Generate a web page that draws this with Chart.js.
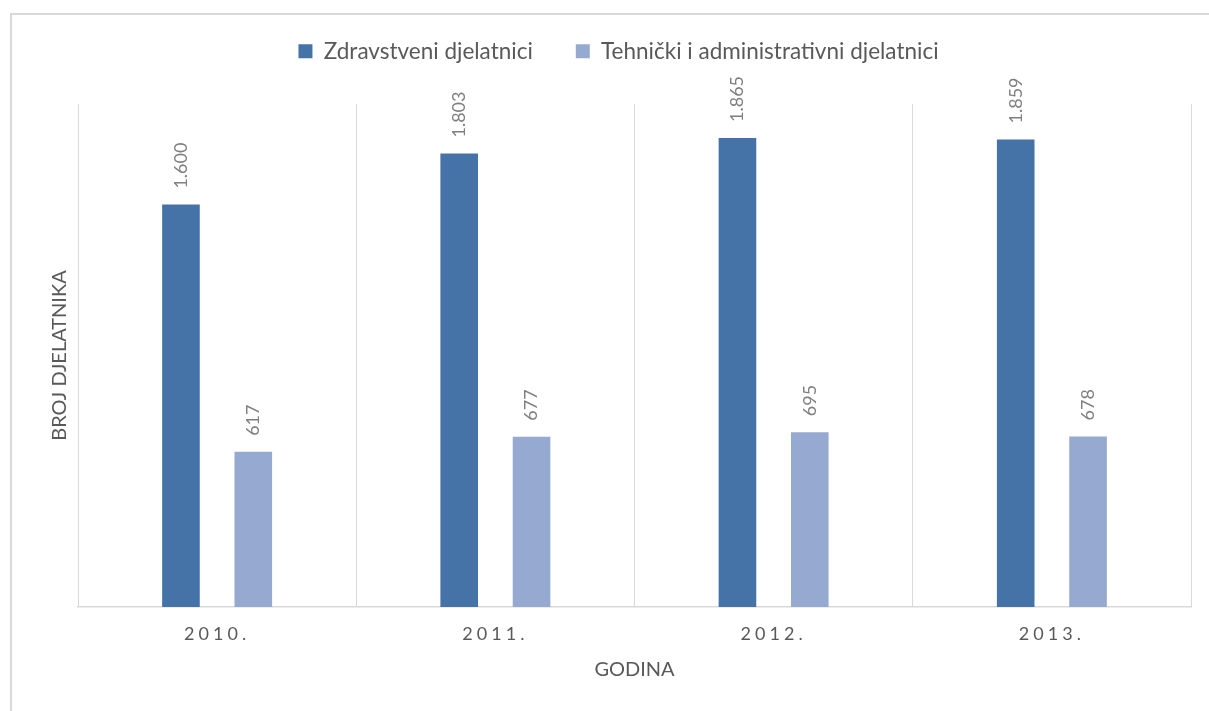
<!DOCTYPE html>
<html lang="hr">
<head>
<meta charset="utf-8">
<title>Broj djelatnika po godinama</title>
<script src="https://cdn.jsdelivr.net/npm/chart.js@4.4.1/dist/chart.umd.min.js"></script>
<style>
  html, body { margin: 0; padding: 0; background: #fff; overflow: hidden; }
  #okvir { position: absolute; left: 10px; top: 13px; width: 1300px; height: 800px; border: 2px solid #d9d9d9; }
  #graf { position: absolute; left: 0; top: 0; }
</style>
</head>
<body>
<div id="okvir"></div>
<canvas id="graf" width="1209" height="711"></canvas>
<script>
// Podaci
const godine = ['2010.', '2011.', '2012.', '2013.'];
const zdravstveni = [1600, 1803, 1865, 1859];
const tehnicki = [617, 677, 695, 678];
const nazivi = ['Zdravstveni djelatnici', 'Tehnički i administrativni djelatnici'];
const yMax = 2000;

const SIVA = '#595959';
const FONT = 'Lato';

// 1600 -> "1.600"
function formatBroj(v) {
    return String(v).replace(/\B(?=(\d{3})+(?!\d))/g, '.');
}

// Vrijednosti iznad stupaca, okrenute okomito
const oznakePlugin = {
    id: 'oznake',
    afterDatasetsDraw(chart) {
        const ctx = chart.ctx;
        ctx.save();
        ctx.font = '18px ' + FONT;
        ctx.fillStyle = '#7f7f7f';
        ctx.textAlign = 'left';
        ctx.textBaseline = 'middle';
        chart.data.datasets.forEach((ds, i) => {
            chart.getDatasetMeta(i).data.forEach((bar, j) => {
                ctx.save();
                ctx.translate(bar.x, bar.y - 16);
                ctx.rotate(-Math.PI / 2);
                ctx.fillText(formatBroj(ds.data[j]), 0, 0);
                ctx.restore();
            });
        });
        ctx.restore();
    }
};

// Legenda: vise mjesta ispod nje i mali pomak
const legendaPlugin = {
    id: 'legenda',
    beforeInit(chart) {
        const fit = chart.legend.fit;
        chart.legend.fit = function () {
            fit.call(this);
            this.height += 28.5;
        };
    },
    afterLayout(chart) {
        chart.legend.left += 23;
        chart.legend.right += 23;
        chart.legend.top -= 3;
        chart.legend.bottom -= 3;
    }
};

// Razmak izmedu slova na oznakama godina
const razmakPlugin = {
    id: 'razmak',
    beforeDraw(chart) {
        const xs = chart.scales.x;
        if (xs._razmak) return;
        const orig = xs.drawLabels;
        xs.drawLabels = function (area) {
            const c = this.ctx;
            c.save();
            c.letterSpacing = '4px';
            orig.call(this, area);
            c.restore();
        };
        xs._razmak = true;
    }
};

Chart.defaults.font.family = FONT;
Chart.defaults.color = SIVA;

new Chart(document.getElementById('graf'), {
    type: 'bar',
    data: {
        labels: godine,
        datasets: [
            {
                label: nazivi[0],
                data: zdravstveni,
                backgroundColor: '#4673a7',
                categoryPercentage: 0.52,
                barPercentage: 0.52
            },
            {
                label: nazivi[1],
                data: tehnicki,
                backgroundColor: '#95a9d1',
                categoryPercentage: 0.52,
                barPercentage: 0.52
            }
        ]
    },
    options: {
        responsive: false,
        animation: false,
        devicePixelRatio: 1,
        layout: { padding: { left: 0, right: 18, top: 0, bottom: 0 } },
        plugins: {
            legend: {
                position: 'top',
                labels: {
                    boxWidth: 14,
                    boxHeight: 14,
                    padding: 43,
                    color: SIVA,
                    font: { family: FONT, size: 22.5 }
                }
            },
            tooltip: { enabled: false }
        },
        scales: {
            x: {
                grid: { color: '#d9d9d9', drawTicks: false, offset: true },
                border: { color: '#d9d9d9', width: 1.5 },
                ticks: { color: SIVA, padding: 16, font: { family: FONT, size: 18 } },
                title: {
                    display: true,
                    text: 'GODINA',
                    color: SIVA,
                    font: { family: FONT, size: 20 },
                    padding: { top: 0, bottom: 29 }
                },
                afterFit(scale) { scale.height = 104; }
            },
            y: {
                min: 0,
                max: yMax,
                grid: { display: false },
                border: { display: false },
                ticks: { display: false },
                title: {
                    display: true,
                    text: 'BROJ DJELATNIKA',
                    color: SIVA,
                    font: { family: FONT, size: 20 },
                    padding: { top: 48, bottom: 0 }
                },
                afterFit(scale) { scale.width = 78; }
            }
        }
    },
    plugins: [legendaPlugin, oznakePlugin, razmakPlugin]
});
</script>
</body>
</html>
